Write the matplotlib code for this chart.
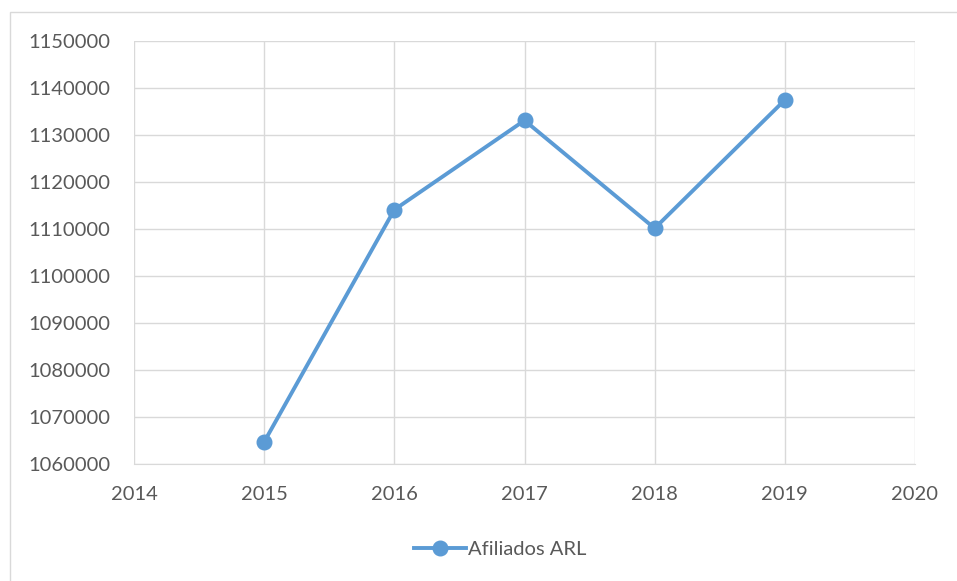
import matplotlib.pyplot as plt
from matplotlib.patches import Rectangle

plt.rcParams['font.family'] = ['Lato', 'DejaVu Sans']

years = [2015, 2016, 2017, 2018, 2019]
afiliados = [1064700, 1114100, 1133100, 1110150, 1137450]
x_ticks = [2014, 2015, 2016, 2017, 2018, 2019, 2020]
y_ticks = list(range(1060000, 1150001, 10000))

W, H = 957, 581
fig = plt.figure(figsize=(W / 100, H / 100), dpi=100)
ax = fig.add_axes([134 / W, 1 - 464 / H, (915 - 134) / W, (464 - 41) / H])

# outer chart frame
fig.patches.append(Rectangle((10 / W, -0.01), 1.0, 1 - 12 / H + 0.01,
                             transform=fig.transFigure, fill=False,
                             edgecolor='#d9d9d9', linewidth=1))

ax.plot(years, afiliados, color='#5b9bd5', linewidth=2.8, marker='o',
        markersize=10.5, label='Afiliados ARL', zorder=3)

ax.set_xlim(2014, 2020)
ax.set_ylim(1060000, 1150000)
ax.set_xticks(x_ticks)
ax.set_yticks(y_ticks)
ax.set_yticklabels([str(v) for v in y_ticks])
ax.grid(True, color='#d9d9d9', linewidth=1)
ax.set_axisbelow(True)
for s in ['top', 'right', 'left']:
    ax.spines[s].set_visible(False)
ax.spines['bottom'].set_color('#d9d9d9')
ax.tick_params(length=0, labelsize=14.5, colors='#595959')
ax.tick_params(axis='y', pad=17)
ax.tick_params(axis='x', pad=16)

leg = fig.legend(loc='center', bbox_to_anchor=(500 / W, 1 - 549 / H),
                 frameon=False, fontsize=14.5, handlelength=2.6,
                 handletextpad=0.1)
for t in leg.get_texts():
    t.set_color('#595959')

fig.savefig('out.png', dpi=100)
